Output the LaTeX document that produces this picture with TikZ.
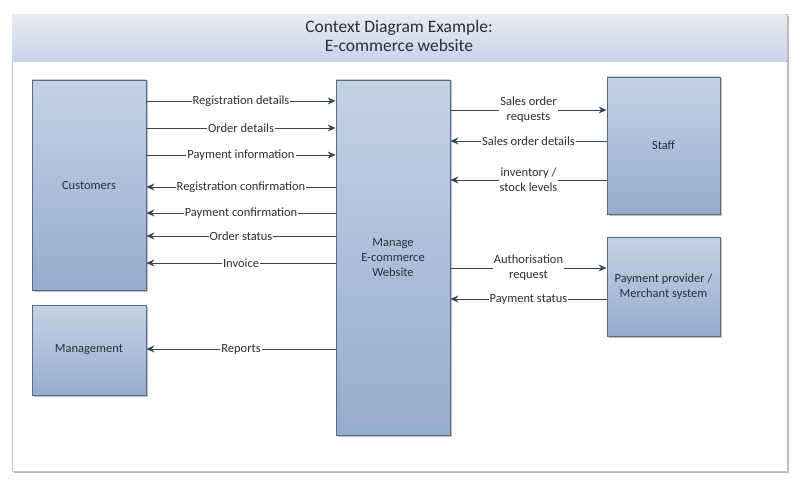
\documentclass[tikz,border=0pt]{standalone}
\usepackage{fontspec}
\setmainfont{Carlito}
\usepackage{tikz}
\usetikzlibrary{arrows.meta,shadows,positioning}
\definecolor{boxtop}{HTML}{C4D2E4}
\definecolor{boxbot}{HTML}{96ACCE}
\definecolor{boxline}{HTML}{566C88}
\definecolor{flowline}{HTML}{34465C}
\definecolor{bandtop}{HTML}{E6ECF4}
\definecolor{bandbot}{HTML}{C8D5E7}
\definecolor{txt}{HTML}{26303C}
\begin{document}
\begin{tikzpicture}[x=1pt,y=-1pt,
  ent/.style={draw=boxline,line width=0.8pt,top color=boxtop,bottom color=boxbot,
    drop shadow={shadow xshift=1.5pt,shadow yshift=-1.5pt,opacity=0.5},
    text=txt,align=center,font=\fontsize{12.5}{15}\selectfont},
  flow/.style={draw=flowline,line width=0.9pt,-{Stealth[length=8pt,width=7pt]}},
  lbl/.style={fill=white,inner sep=1pt,text=txt,align=center,font=\fontsize{12.5}{15}\selectfont}]
\useasboundingbox (0,0) rectangle (800,484);
\draw[draw=gray!50,fill=white,drop shadow={shadow xshift=2pt,shadow yshift=-2pt,opacity=0.55}] (12,14) rectangle (787,471);
\fill[top color=bandtop,bottom color=bandbot] (12.5,14.5) rectangle (786.5,62);
\node[text=txt,align=center,font=\fontsize{17.5}{19}\selectfont] (ttl) at (399,36) {Context Diagram Example:\\E-commerce website};
\node[ent,minimum width=114pt,minimum height=210pt] (cust) at (89,185) {Customers};
\node[ent,minimum width=114pt,minimum height=90pt] (mgmt) at (89,350) {Management};
\node[ent,minimum width=114pt,minimum height=355pt] (sys) at (393,257.5) {Manage\\E-commerce\\Website};
\node[ent,minimum width=113pt,minimum height=137pt] (staff) at (663.5,145.5) {Staff};
\node[ent,minimum width=113pt,minimum height=99pt] (pay) at (663.5,286.5) {Payment provider /\\Merchant system};
\foreach \y/\t in {101/Registration details,128/Order details,155/Payment information}
  \draw[flow] (cust.east |- 0,\y) -- node[lbl]{\t} (sys.west |- 0,\y);
\foreach \y/\t in {187/Registration confirmation,213/Payment confirmation,236/Order status,263/Invoice}
  \draw[flow] (sys.west |- 0,\y) -- node[lbl]{\t} (cust.east |- 0,\y);
\draw[flow] (sys.west |- 0,349) -- node[lbl]{Reports} (mgmt.east |- 0,349);
\draw[flow] (sys.east |- 0,110) -- node[lbl]{Sales order\\requests} (staff.west |- 0,110);
\draw[flow] (staff.west |- 0,141) -- node[lbl]{Sales order details} (sys.east |- 0,141);
\draw[flow] (staff.west |- 0,180) -- node[lbl]{inventory /\\stock levels} (sys.east |- 0,180);
\draw[flow] (sys.east |- 0,268) -- node[lbl]{Authorisation\\request} (pay.west |- 0,268);
\draw[flow] (pay.west |- 0,299) -- node[lbl]{Payment status} (sys.east |- 0,299);
\end{tikzpicture}
\end{document}
